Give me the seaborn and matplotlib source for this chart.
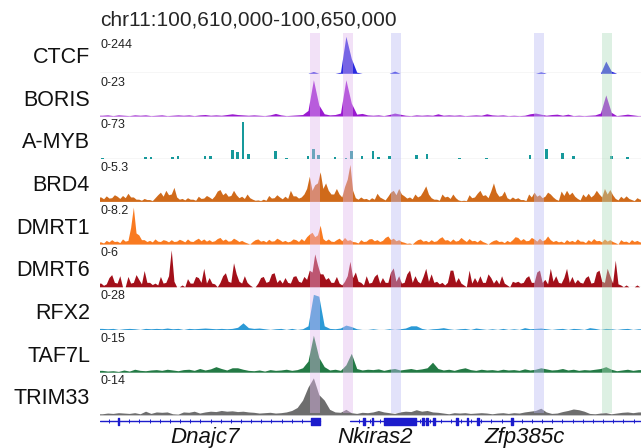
import numpy as np
import matplotlib
matplotlib.use("Agg")
import matplotlib.pyplot as plt
import matplotlib.transforms as mtransforms
import seaborn as sns

sns.set_style("white")
plt.rcParams['font.family'] = ['Liberation Sans', 'DejaVu Sans']

# ---- data ----
title = "chr11:100,610,000-100,650,000"
region_kb = 40.0

tracks = ["CTCF", "BORIS", "A-MYB", "BRD4", "DMRT1", "DMRT6", "RFX2", "TAF7L", "TRIM33"]
ranges = [244, 23, 73, 5.3, 8.2, 6, 28, 15, 14]
range_labels = ["0-244", "0-23", "0-73", "0-5.3", "0-8.2", "0-6", "0-28", "0-15", "0-14"]
colors = ["#2a2ae0", "#9a1ad0", "#16999b", "#d06a1a", "#f97a20",
          "#a3101a", "#2c9ad6", "#237a45", "#6e6e6e"]

# signal in % of the track range; 100 values = 0.4 kb bins, 200 values = 0.2 kb bins
ctcf = [0, 0, 0, 0, 0, 0, 0, 0, 0, 0,
        0, 0, 0, 0, 0, 0, 0, 0, 0, 0,
        0, 0, 0, 0, 0, 0, 0, 0, 0, 0,
        0, 0, 0, 0, 0, 0, 0, 0, 0, 5,
        0, 0, 0, 0, 3, 100, 40, 3, 0, 0,
        0, 0, 0, 0, 6, 0, 0, 0, 0, 0,
        0, 0, 0, 0, 0, 0, 0, 0, 0, 0,
        0, 0, 0, 0, 0, 0, 0, 0, 0, 0,
        0, 4, 0, 0, 0, 0, 0, 0, 0, 0,
        0, 0, 0, 33, 6, 0, 0, 0, 0, 0]
boris = [2, 3, 1, 3, 2, 1, 3, 2, 3, 1,
         2, 3, 1, 2, 3, 2, 3, 1, 3, 4,
         2, 3, 2, 4, 6, 4, 3, 2, 3, 2,
         1, 3, 7, 3, 1, 2, 3, 4, 15, 98,
         30, 6, 3, 4, 8, 98, 35, 5, 7, 3,
         2, 3, 1, 4, 8, 5, 2, 1, 3, 2,
         3, 2, 6, 2, 3, 2, 3, 1, 2, 3,
         2, 6, 3, 2, 3, 1, 2, 1, 2, 6,
         8, 5, 2, 4, 5, 2, 5, 1, 2, 1,
         2, 3, 8, 57, 10, 1, 3, 5, 3, 1]
amyb = [3, 0, 0, 0, 0, 0, 0, 0, 5, 4,
        0, 0, 0, 4, 6, 0, 0, 0, 0, 8,
        6, 0, 0, 0, 24, 18, 100, 12, 0, 0,
        0, 0, 20, 0, 3, 0, 0, 0, 8, 26,
        10, 0, 0, 4, 0, 3, 20, 0, 7, 0,
        20, 4, 0, 6, 0, 0, 0, 0, 10, 0,
        14, 0, 0, 0, 0, 0, 2, 0, 0, 0,
        0, 2, 0, 0, 0, 0, 0, 0, 0, 10,
        0, 0, 25, 0, 0, 16, 0, 8, 0, 0,
        0, 0, 0, 0, 6, 0, 0, 5, 0, 0]
brd4 = [12, 7, 15, 9, 10, 18, 14, 8, 16, 10, 22, 12, 12, 6, 6, 3, 8, 5, 5, 2,
        10, 18, 25, 14, 30, 18, 20, 38, 12, 6, 8, 4, 10, 6, 6, 3, 14, 8, 9, 16,
        12, 7, 15, 28, 32, 18, 24, 14, 16, 30, 18, 10, 14, 8, 20, 10, 6, 3, 4, 2,
        6, 3, 16, 9, 10, 18, 12, 7, 14, 8, 30, 15, 15, 9, 12, 20, 35, 68, 30, 45,
        50, 80, 35, 50, 30, 20, 20, 35, 20, 12, 40, 60, 100, 30, 10, 6, 12, 7, 8, 4,
        10, 6, 22, 12, 8, 4, 14, 25, 30, 18, 35, 20, 15, 9, 12, 7, 20, 12, 16, 28,
        42, 20, 10, 6, 6, 3, 20, 12, 14, 8, 20, 10, 4, 2, 3, 2, 18, 10, 12, 22,
        30, 16, 18, 10, 28, 50, 25, 14, 16, 28, 10, 6, 12, 7, 10, 5, 5, 2, 20, 12,
        25, 14, 18, 10, 14, 25, 20, 12, 6, 3, 28, 16, 30, 18, 25, 14, 8, 4, 20, 12,
        22, 12, 18, 30, 20, 12, 35, 20, 32, 18, 8, 4, 14, 8, 15, 8, 5, 2, 10, 6]
dmrt1 = [6, 3, 10, 6, 12, 7, 8, 4, 14, 8, 10, 45, 100, 30, 25, 12, 12, 7, 10, 6,
         14, 8, 7, 12, 10, 6, 12, 7, 8, 13, 10, 6, 14, 8, 7, 12, 16, 9, 14, 8,
         12, 7, 9, 15, 18, 10, 14, 8, 9, 16, 12, 7, 10, 6, 3, 0, 7, 12, 14, 8,
         10, 6, 13, 8, 9, 16, 12, 7, 10, 6, 8, 14, 12, 7, 15, 9, 20, 27, 32, 20,
         25, 51, 15, 9, 14, 8, 7, 12, 16, 9, 18, 10, 12, 7, 6, 3, 12, 7, 8, 14,
         15, 9, 12, 7, 10, 18, 22, 12, 16, 9, 12, 7, 5, 2, 3, 0, 7, 12, 14, 8,
         10, 6, 12, 7, 9, 16, 20, 11, 12, 7, 14, 8, 10, 18, 12, 7, 15, 9, 10, 6,
         12, 7, 4, 0, 6, 10, 12, 7, 8, 4, 10, 6, 12, 20, 18, 10, 15, 9, 10, 18,
         14, 8, 16, 9, 12, 22, 12, 7, 10, 6, 8, 4, 12, 7, 10, 6, 14, 8, 8, 4,
         12, 7, 15, 9, 10, 6, 14, 8, 12, 7, 4, 0, 12, 7, 8, 4, 12, 7, 10, 6]
dmrt6 = [10, 4, 8, 25, 33, 12, 10, 30, 0, 0, 28, 10, 12, 33, 20, 8, 44, 12, 12, 6,
         10, 5, 28, 10, 12, 30, 100, 15, 0, 0, 5, 0, 22, 10, 10, 28, 25, 12, 50, 10,
         25, 10, 8, 0, 12, 30, 38, 15, 12, 65, 35, 15, 10, 30, 12, 5, 0, 0, 10, 25,
         28, 12, 15, 35, 38, 12, 20, 10, 25, 12, 10, 28, 30, 15, 12, 28, 20, 45, 40, 89,
         60, 35, 35, 20, 25, 12, 12, 28, 10, 5, 15, 30, 69, 25, 40, 15, 12, 5, 30, 10,
         12, 28, 35, 10, 25, 12, 12, 40, 51, 15, 30, 10, 12, 35, 45, 12, 30, 15, 10, 28,
         50, 15, 35, 12, 15, 8, 12, 5, 12, 45, 45, 12, 25, 10, 5, 0, 45, 10, 25, 12,
         30, 12, 12, 35, 25, 10, 20, 8, 30, 10, 5, 0, 15, 12, 15, 10, 12, 25, 30, 12,
         12, 40, 45, 12, 20, 8, 50, 15, 30, 12, 10, 25, 50, 12, 28, 10, 20, 12, 10, 25,
         30, 10, 12, 40, 45, 15, 12, 50, 30, 10, 72, 8, 5, 0, 5, 0, 0, 0, 5, 0]
rfx2 = [3, 2, 3, 0, 2, 3, 2, 0, 3, 2,
        3, 2, 4, 2, 3, 0, 3, 2, 3, 4,
        3, 2, 3, 2, 3, 6, 18, 5, 3, 4,
        2, 0, 2, 3, 0, 3, 0, 2, 10, 95,
        90, 10, 3, 2, 4, 12, 8, 2, 0, 0,
        2, 0, 0, 2, 0, 2, 4, 10, 10, 3,
        0, 2, 3, 5, 2, 0, 2, 3, 0, 4,
        2, 0, 2, 0, 3, 0, 2, 0, 5, 2,
        3, 4, 2, 0, 2, 3, 0, 3, 2, 0,
        5, 3, 0, 3, 2, 0, 2, 3, 0, 2]
taf7l = [5, 3, 4, 2, 6, 3, 8, 5, 4, 6,
         7, 5, 8, 6, 4, 7, 8, 5, 10, 6,
         9, 15, 10, 6, 12, 12, 8, 5, 4, 6,
         3, 7, 5, 6, 8, 5, 7, 12, 30, 100,
         40, 15, 6, 8, 5, 20, 51, 10, 6, 8,
         7, 9, 5, 8, 10, 6, 8, 10, 7, 9,
         12, 27, 10, 6, 8, 5, 9, 12, 7, 5,
         8, 6, 7, 5, 8, 6, 7, 5, 9, 6,
         8, 12, 9, 6, 7, 10, 6, 8, 5, 7,
         6, 8, 10, 15, 8, 4, 6, 8, 5, 7]
trim33 = [3, 5, 4, 6, 5, 4, 6, 3, 10, 4,
          8, 7, 8, 3, 2, 8, 7, 10, 5, 8,
          10, 9, 12, 10, 11, 9, 10, 8, 7, 5,
          6, 7, 5, 6, 8, 12, 20, 40, 75, 100,
          55, 40, 15, 8, 7, 15, 6, 4, 7, 6,
          8, 12, 8, 6, 4, 8, 10, 9, 14, 10,
          12, 8, 7, 5, 3, 6, 5, 6, 4, 5,
          6, 5, 3, 5, 6, 4, 6, 5, 8, 10,
          12, 18, 8, 4, 5, 9, 12, 16, 14, 10,
          4, 3, 5, 6, 3, 5, 7, 8, 6, 8]
signals = [ctcf, boris, amyb, brd4, dmrt1, dmrt6, rfx2, taf7l, trim33]
thin_bars = ["A-MYB"]

# highlighted regions (kb from region start)
band_starts = [15.55, 17.99, 21.53, 32.10, 37.12]
band_ends = [16.29, 18.73, 22.27, 32.84, 37.86]
band_colors = ["#e2b8ee", "#e2b8ee", "#bcbcf5", "#bcbcf5", "#b0dcbe"]

# gene model (kb)
gene_lines = [(0.0, 16.29), (18.50, 40.0)]
exon_starts = [1.33, 15.62, 19.48, 20.10, 20.98, 23.84, 24.12, 24.66, 26.32, 27.14, 27.92, 30.42]
exon_widths = [0.12, 0.67, 0.13, 0.13, 2.40, 0.13, 0.13, 0.15, 0.13, 0.10, 0.13, 0.13]
gene_names = ["Dnajc7", "Nkiras2", "Zfp385c"]
gene_label_x = [7.8, 20.35, 31.43]

# ---- layout (pixels) ----
W, H = 641, 448
X0, X1 = 99.5, 641
TRACK_H = 37


def box(y_top, y_bot):
    return [X0 / W, 1 - y_bot / H, (X1 - X0) / W, (y_bot - y_top) / H]


fig = plt.figure(figsize=(W / 100, H / 100), dpi=100)
fig.text(100 / W, 1 - 20 / H, title, ha="left", va="center", fontsize=15)

for i, name in enumerate(tracks):
    base = 73.3 + 42.7 * i
    ax = fig.add_axes(box(base - TRACK_H, base))
    ax.patch.set_visible(False)
    vals = np.array(signals[i], dtype=float) / 100 * ranges[i]
    step = region_kb / len(vals)
    pos = (np.arange(len(vals)) + 0.5) * step
    ax.axhline(0, color="#d4d4d4", lw=1, zorder=0)
    if name in thin_bars:
        ax.bar(pos, vals, width=step * 0.5, color=colors[i], linewidth=0, zorder=1)
    else:
        xs = np.concatenate([[0], pos, [region_kb]])
        ys = np.concatenate([[vals[0]], vals, [vals[-1]]])
        ax.fill_between(xs, 0, ys, color=colors[i], linewidth=0, zorder=1)
    ax.set_xlim(0, region_kb)
    ax.set_ylim(0, ranges[i])
    ax.axis("off")
    dy = 8.7 if i == 0 else 3.5
    ax.text(0.001, 1 - dy / TRACK_H, range_labels[i], transform=ax.transAxes,
            ha="left", va="center", fontsize=9, color="#222222")
    fig.text(90 / W, 1 - (base - 16) / H, name, ha="right", va="center",
             fontsize=15.5, color="#111111")

# highlight bands on top
bax = fig.add_axes(box(33, 413), zorder=10)
bax.patch.set_visible(False)
for s, e, c in zip(band_starts, band_ends, band_colors):
    bax.axvspan(s, e, color=c, alpha=0.42, linewidth=0)
bax.set_xlim(0, region_kb)
bax.axis("off")

# gene track
gax = fig.add_axes(box(414, 428))
gax.patch.set_visible(False)
gene_col = "#1c1ccc"
for s, e in gene_lines:
    sns.lineplot(x=[s, e], y=[0, 0], ax=gax, color=gene_col, linewidth=1, estimator=None)
    ticks = np.arange(s + 0.7, e - 0.2, 0.75)
    gax.plot(ticks, np.zeros_like(ticks), linestyle="none", marker="|",
             markersize=2.5, markeredgewidth=0.7, color=gene_col)
gax.broken_barh(list(zip(exon_starts, exon_widths)), (-0.5, 1.0), color=gene_col)
gax.set_xlim(0, region_kb)
gax.set_ylim(-1, 1)
gax.axis("off")

trans = mtransforms.blended_transform_factory(gax.transData, fig.transFigure)
for nm, gx in zip(gene_names, gene_label_x):
    gax.text(gx, 1 - 437 / H, nm, transform=trans, ha="center", va="center",
             fontsize=16, style="italic", color="#111111")

fig.savefig("out.png", dpi=100)
